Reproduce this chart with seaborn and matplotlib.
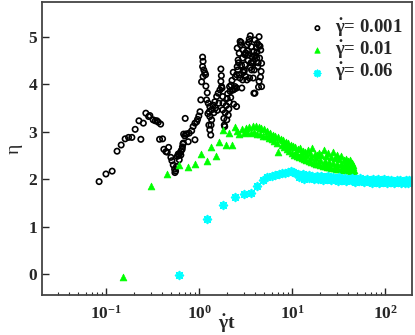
import numpy as np
import matplotlib
matplotlib.use("Agg")
from matplotlib import pyplot as plt
from matplotlib.ticker import LogLocator, NullFormatter, FixedLocator
import seaborn as sns

# gamma_dot = 0.001
x_001 = [0.084, 0.0995, 0.116, 0.131, 0.145, 0.160, 0.174, 0.189, 0.205, 0.225,
         0.236, 0.251, 0.267, 0.286, 0.295, 0.320, 0.337, 0.351, 0.363, 0.385,
         0.375, 0.404, 0.417, 0.439, 0.469, 0.453, 0.496, 0.509, 0.526, 0.544,
         0.557, 0.548, 0.571, 0.595, 0.61, 0.635, 0.656, 0.673, 0.70, 0.707,
         0.68, 0.72, 0.732, 0.762, 0.78, 0.83, 0.86, 0.90, 0.90, 0.94,
         0.96, 0.99, 1.02, 1.04, 0.58, 0.60, 0.62, 0.64, 0.66, 0.67,
         1.087, 1.10, 1.087, 1.12, 1.15, 1.10, 1.06, 1.17, 1.18, 1.22,
         1.20, 1.25, 1.30, 1.36, 1.28, 1.41, 1.47, 1.54, 1.60, 1.67,
         1.74, 1.30, 1.36, 1.34, 1.30, 1.33, 1.27, 1.24, 1.44, 1.50,
         1.56, 1.62, 1.71, 1.73, 1.71, 1.76, 1.79, 1.80, 1.79, 1.84,
         1.86, 1.88, 1.90, 1.95, 2.00, 2.05, 2.10, 2.15, 2.20, 2.25,
         1.98, 2.08, 2.18, 2.28, 2.35, 2.40, 2.45, 2.32, 2.12, 2.02,
         2.56, 2.69, 2.62, 2.56, 2.69, 2.78, 2.97, 2.93, 3.10, 3.18,
         3.28, 3.45, 3.54, 3.64, 3.70, 3.37, 3.81, 3.96, 4.12, 4.25,
         4.40, 4.45, 4.58, 4.62, 4.40, 4.34, 3.87, 3.48, 3.25, 2.93,
         2.74, 2.52, 3.10, 3.74, 3.87, 4.21, 4.68, 4.68, 2.32, 2.43,
         2.87, 2.52, 2.52, 3.97, 2.65, 2.85, 3.02, 3.20, 3.35, 3.55,
         3.80, 4.05, 4.30, 4.50, 2.75, 3.00, 3.30, 3.60, 3.90, 4.15,
         2.60, 2.82, 3.05, 3.15, 3.40, 3.66, 3.92, 4.18, 4.36, 4.55]
y_001 = [1.95, 2.11, 2.17, 2.59, 2.72, 2.85, 2.88, 2.88, 3.05, 3.23,
         2.84, 3.18, 3.39, 3.32, 3.34, 3.25, 3.23, 3.23, 3.20, 3.16,
         2.84, 2.85, 2.63, 2.58, 2.67, 2.57, 2.46, 2.39, 2.30, 2.21,
         2.17, 2.14, 2.27, 2.53, 2.41, 2.51, 2.63, 2.76, 2.91, 3.28,
         2.95, 2.95, 2.95, 2.79, 2.97, 3.02, 3.11, 2.83, 3.18, 3.21,
         3.26, 3.33, 3.42, 3.67, 2.48, 2.50, 2.55, 2.60, 2.68, 2.74,
         4.57, 4.48, 4.37, 4.30, 4.24, 4.16, 4.05, 4.20, 3.96, 3.82,
         3.67, 3.60, 3.53, 3.46, 3.42, 3.56, 3.63, 3.74, 3.81, 3.88,
         3.95, 3.32, 3.25, 3.14, 3.04, 2.93, 3.14, 3.38, 3.40, 3.50,
         3.45, 3.60, 4.32, 4.18, 4.06, 3.92, 3.74, 3.60, 3.46, 3.28,
         3.14, 3.11, 3.40, 3.55, 3.70, 3.35, 3.62, 3.85, 3.98, 4.08,
         3.25, 3.48, 3.72, 3.88, 3.58, 3.90, 4.15, 4.25, 3.95, 3.80,
         4.76, 4.65, 4.51, 4.37, 4.20, 4.83, 4.72, 4.55, 4.41, 4.16,
         4.83, 4.95, 5.02, 4.79, 4.58, 4.62, 4.13, 4.93, 4.76, 4.37,
         5.00, 4.55, 4.72, 4.27, 4.06, 3.94, 3.81, 4.13, 4.09, 4.09,
         4.13, 4.20, 4.62, 4.44, 4.69, 4.86, 4.44, 3.95, 3.88, 3.95,
         3.92, 3.53, 3.92, 3.81, 4.45, 4.40, 4.30, 4.65, 4.50, 4.35,
         4.48, 4.60, 4.45, 4.80, 4.90, 4.25, 4.70, 4.45, 4.30, 4.55,
         4.30, 4.88, 4.28, 4.66, 4.88, 4.30, 4.60, 4.68, 4.82, 4.15]

# gamma_dot = 0.01
x_01 = [0.15, 0.30, 0.45, 0.60, 0.75, 0.90, 1.05, 1.20, 1.35, 1.50,
        1.65, 1.80, 1.95, 2.10, 2.25, 2.40,
        2.55, 2.85, 3.15, 3.45, 3.75, 4.05, 4.35, 4.65, 5.0, 5.4,
        5.8, 6.2, 6.6, 7.0, 7.5, 8.0, 8.5, 9.0, 9.6, 10.2,
        10.8, 11.5, 12.2, 13.0, 13.8, 14.6, 15.5, 16.4, 17.4, 18.4,
        19.5, 20.6, 21.8, 23.0, 24.4, 25.8, 27.2, 28.8, 30.4, 32.0,
        33.8, 35.6, 37.4, 39.4, 41.4, 43.4, 45.4,
        2.7, 3.0, 3.3, 3.6, 3.9, 4.2, 4.5, 4.8, 5.2, 5.6,
        6.0, 6.4, 6.8, 7.1, 7.7, 8.2, 8.8, 9.3, 9.9, 10.5,
        11.2, 11.9, 12.6, 13.4, 14.2, 15.0, 16.0, 17.0, 18.0, 19.0,
        20.0, 21.2, 22.4, 23.6, 25.0, 26.4, 28.0, 29.6, 31.2, 33.0,
        34.8, 36.6, 38.6, 40.6, 42.6, 44.6, 46.0,
        8.4, 9.6, 11.0, 12.4, 14.0, 16.0, 18.0, 20.0, 22.5, 25.0,
        27.5, 30.0, 33.0, 36.0, 39.0, 42.0, 45.0]
y_01 = [-0.06, 1.86, 2.12, 2.29, 2.26, 2.33, 2.54, 2.38, 2.67, 2.48,
        2.78, 3.04, 2.72, 2.98, 2.72, 3.10,
        3.02, 3.06, 3.08, 3.10, 3.13, 3.12, 3.10, 3.08, 3.05, 3.01,
        2.97, 2.94, 2.90, 2.88, 2.85, 2.82, 2.79, 2.76, 2.73, 2.70,
        2.67, 2.64, 2.66, 2.60, 2.58, 2.62, 2.56, 2.65, 2.54, 2.52,
        2.56, 2.50, 2.62, 2.48, 2.55, 2.46, 2.58, 2.44, 2.50, 2.42,
        2.48, 2.40, 2.43, 2.38, 2.40, 2.35, 2.30,
        2.95, 2.98, 3.00, 2.97, 3.00, 2.96, 2.95, 2.92, 2.90, 2.86,
        2.84, 2.80, 2.77, 2.57, 2.72, 2.68, 2.64, 2.60, 2.56, 2.52,
        2.49, 2.46, 2.44, 2.42, 2.40, 2.38, 2.36, 2.34, 2.32, 2.31,
        2.29, 2.28, 2.27, 2.26, 2.25, 2.24, 2.23, 2.22, 2.22, 2.21,
        2.20, 2.20, 2.19, 2.19, 2.18, 2.18, 2.20,
        2.74, 2.67, 2.58, 2.54, 2.50, 2.46, 2.44, 2.40, 2.38, 2.36,
        2.34, 2.33, 2.32, 2.30, 2.29, 2.28, 2.26]

# gamma_dot = 0.06
x_06 = [0.6, 1.2, 1.8, 2.4, 3.0, 3.6, 4.2, 4.8, 5.4, 6.0,
        6.6, 7.2, 7.8, 8.4, 9.0, 9.6, 10.2, 10.8, 11.4, 12.0,
        12.6, 13.2, 13.8, 14.4, 15.0, 15.6, 16.2, 16.8, 17.4, 18.0,
        18.6, 19.2, 19.8, 20.4, 21.0, 21.6, 22.8, 24.0, 25.2, 26.4,
        27.6, 28.8, 30.0, 31.8, 33.6, 35.4, 37.2, 39.0, 41.4, 43.8,
        46.2, 48.6, 51.0, 54.0, 57.0, 60.0, 63.0, 66.0, 69.6, 73.2,
        76.8, 80.4, 84.0, 88.2, 92.4, 96.6, 101.4, 106.2, 111.0, 116.4,
        121.8, 127.2, 133.2, 139.2, 145.2, 151.8, 158.4, 165.0, 172.2, 179.4,
        186.6, 192.0,
        11.7, 13.5, 15.3, 17.1, 18.9, 21.3, 23.4, 25.8, 28.2, 31.2,
        34.5, 38.1, 42.6, 47.4, 52.5, 58.5, 64.5, 71.4, 78.6, 86.1,
        94.5, 104.0, 113.7, 124.5, 136.2, 148.5, 161.7, 175.8, 189.0]
y_06 = [-0.02, 1.16, 1.46, 1.63, 1.69, 1.71, 1.86, 1.99, 2.04, 2.06,
        2.09, 2.11, 2.13, 2.14, 2.16, 2.18, 2.15, 2.13, 2.10, 2.09,
        2.08, 2.10, 2.07, 2.06, 2.08, 2.05, 2.07, 2.03, 2.05, 2.02,
        2.06, 2.04, 2.03, 2.07, 2.05, 2.02, 2.04, 2.06, 2.01, 2.03,
        2.05, 2.00, 2.02, 2.04, 1.99, 2.01, 2.03, 1.98, 2.00, 2.02,
        1.97, 2.01, 1.99, 2.02, 1.97, 1.99, 2.01, 1.96, 1.99, 2.00,
        1.96, 1.98, 2.00, 1.95, 1.98, 2.01, 1.96, 1.98, 1.95, 1.99,
        1.97, 1.95, 1.98, 1.96, 1.99, 1.95, 1.97, 1.99, 1.96, 1.98,
        1.96, 1.98,
        2.04, 2.01, 2.03, 2.00, 2.01, 1.99, 2.01, 1.98, 2.00, 1.97,
        1.99, 1.96, 1.98, 1.95, 1.97, 1.94, 1.96, 1.93, 1.95, 1.93,
        1.95, 1.92, 1.94, 1.92, 1.94, 1.91, 1.93, 1.92, 1.94]

sns.set_style("ticks")
plt.rcParams['font.family'] = ['Liberation Serif', 'DejaVu Serif']
plt.rcParams['font.weight'] = 'bold'
plt.rcParams['mathtext.fontset'] = 'custom'
plt.rcParams['mathtext.rm'] = 'Liberation Serif:bold'
plt.rcParams['mathtext.it'] = 'Liberation Serif:italic:bold'
plt.rcParams['mathtext.bf'] = 'Liberation Serif:bold'
plt.rcParams['mathtext.default'] = 'rm'

fig = plt.figure(figsize=(4.15, 3.35), dpi=100)
ax = fig.add_axes([0.101, 0.119, 0.892, 0.875])

sns.scatterplot(x=x_001, y=y_001, ax=ax, marker='o', s=15, facecolor='none',
                edgecolor='black', linewidth=1.2, label=r'$\dot{\gamma}$= 0.001')
sns.scatterplot(x=x_01, y=y_01, ax=ax, marker='^', s=24, color='#00ff00',
                edgecolor='#00ff00', linewidth=0.5, label=r'$\dot{\gamma}$= 0.01')
sns.scatterplot(x=x_06, y=y_06, ax=ax, marker=(8, 2, 0), s=30, color='#00ffff',
                edgecolor='#00ffff', linewidth=1.3, label=r'$\dot{\gamma}$= 0.06')

ax.set_xscale('log')
ax.set_xlim(0.0204, 194)
ax.set_ylim(-0.44, 5.73)
ax.yaxis.set_major_locator(FixedLocator([0, 1, 2, 3, 4, 5]))
ax.xaxis.set_major_locator(LogLocator(base=10, numticks=10))
ax.xaxis.set_minor_locator(LogLocator(base=10, subs=np.arange(2, 10), numticks=10))
ax.xaxis.set_minor_formatter(NullFormatter())
ax.tick_params(axis='both', which='major', direction='in', length=5, width=1,
               labelsize=12.5, top=False, right=False)
ax.tick_params(axis='x', which='major', pad=7)
ax.tick_params(axis='x', which='minor', direction='in', length=2.5, width=0.8,
               top=False)
ax.tick_params(axis='y', which='minor', left=False, right=False)
for lab in ax.get_xticklabels() + ax.get_yticklabels():
    lab.set_fontweight('bold')

for sp in ax.spines.values():
    sp.set_color('#444444')
    sp.set_linewidth(1.3)
    sp.set_visible(True)

ax.set_xlabel(r'$\dot{\gamma}$t', fontsize=14, fontweight='bold', labelpad=-7)
ax.set_ylabel('η', fontsize=14, fontweight='normal', labelpad=4)

leg = ax.legend(loc='upper right', bbox_to_anchor=(0.995, 0.975), frameon=False,
                fontsize=13.5, handletextpad=0.2, labelspacing=0.0,
                borderaxespad=0.0, markerscale=0.8, handlelength=1.5)
for t in leg.get_texts():
    t.set_fontweight('bold')

fig.savefig('out.png', dpi=100)
